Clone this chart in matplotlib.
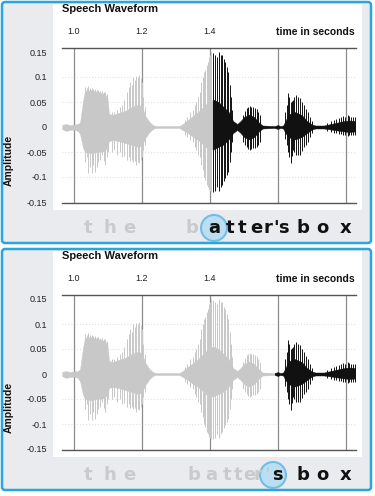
import matplotlib
import matplotlib.pyplot as plt
from matplotlib.patches import Rectangle, FancyBboxPatch, Circle

matplotlib.use('Agg')
plt.rcParams['font.family'] = ['Liberation Sans', 'DejaVu Sans']

# 波形包络（秒, 上沿, 下沿）。
env_t = [0.965, 0.976, 0.988, 1.0, 1.012, 1.018, 1.026, 1.032, 1.05, 1.07,
         1.09, 1.098, 1.103, 1.115, 1.13, 1.15, 1.17, 1.19, 1.2, 1.21,
         1.222, 1.232, 1.24, 1.31, 1.32, 1.335, 1.35, 1.365, 1.38, 1.395,
         1.41, 1.425, 1.44, 1.455, 1.468, 1.48, 1.49, 1.5, 1.515, 1.53,
         1.545, 1.555, 1.59, 1.6, 1.606, 1.615, 1.622, 1.63, 1.65, 1.67,
         1.685, 1.7, 1.71, 1.735, 1.755, 1.775, 1.795, 1.81, 1.826]
env_hi = [0.004, 0.006, 0.004, 0.005, 0.006, 0.01, 0.05, 0.072, 0.074, 0.07,
          0.066, 0.06, 0.026, 0.024, 0.028, 0.032, 0.04, 0.045, 0.04, 0.022,
          0.01, 0.004, 0.002, 0.002, 0.006, 0.014, 0.022, 0.03, 0.04, 0.05,
          0.055, 0.05, 0.04, 0.03, 0.012, 0.006, 0.012, 0.02, 0.025, 0.02,
          0.008, 0.003, 0.002, 0.004, 0.002, 0.003, 0.012, 0.025, 0.03, 0.024,
          0.012, 0.005, 0.003, 0.003, 0.006, 0.009, 0.012, 0.013, 0.012]
env_lo = [-0.004, -0.008, -0.006, -0.005, -0.008, -0.015, -0.04, -0.05, -0.052, -0.05,
          -0.048, -0.04, -0.028, -0.026, -0.028, -0.032, -0.036, -0.04, -0.036, -0.022,
          -0.01, -0.004, -0.002, -0.002, -0.006, -0.012, -0.02, -0.026, -0.035, -0.045,
          -0.045, -0.04, -0.035, -0.025, -0.012, -0.006, -0.012, -0.02, -0.025, -0.02,
          -0.008, -0.003, -0.002, -0.004, -0.002, -0.003, -0.012, -0.02, -0.025, -0.02,
          -0.012, -0.005, -0.003, -0.003, -0.005, -0.007, -0.009, -0.01, -0.009]

# 基音脉冲（尖峰）。
pulse_t = [1.032, 1.037, 1.042, 1.047, 1.052, 1.057, 1.062, 1.067, 1.072, 1.077,
           1.082, 1.087, 1.092, 1.096, 1.1,
           1.112, 1.119, 1.127, 1.134, 1.141, 1.148, 1.156, 1.161, 1.165, 1.17,
           1.174, 1.179, 1.183, 1.188, 1.192, 1.196, 1.2, 1.204, 1.208,
           1.326, 1.333, 1.341, 1.349, 1.356, 1.36, 1.365, 1.37, 1.374, 1.378,
           1.382, 1.386, 1.391, 1.394, 1.397, 1.4, 1.403, 1.409, 1.415, 1.42,
           1.426, 1.431, 1.435, 1.44, 1.444, 1.449, 1.453, 1.458, 1.462, 1.466,
           1.497, 1.503, 1.509, 1.513, 1.518, 1.522, 1.527, 1.532, 1.538, 1.542, 1.547,
           1.621, 1.625, 1.629, 1.633, 1.638, 1.641, 1.644, 1.648, 1.653, 1.659,
           1.665, 1.67, 1.676, 1.682, 1.688, 1.694, 1.7,
           1.745, 1.755, 1.765, 1.772, 1.78, 1.785, 1.79, 1.797, 1.805, 1.81,
           1.815, 1.82, 1.826]
pulse_hi = [0.08, 0.078, 0.082, 0.079, 0.078, 0.077, 0.076, 0.075, 0.074, 0.073,
            0.072, 0.07, 0.07, 0.066, 0.04,
            0.03, 0.03, 0.035, 0.04, 0.045, 0.055, 0.07, 0.08, 0.09, 0.085,
            0.1, 0.095, 0.102, 0.1, 0.104, 0.098, 0.09, 0.06, 0.04,
            0.015, 0.02, 0.03, 0.035, 0.045, 0.05, 0.06, 0.07, 0.09, 0.1,
            0.11, 0.115, 0.125, 0.13, 0.14, 0.145, 0.15, 0.148, 0.144, 0.14,
            0.15, 0.145, 0.144, 0.135, 0.13, 0.12, 0.11, 0.085, 0.06, 0.035,
            0.025, 0.032, 0.038, 0.04, 0.042, 0.041, 0.04, 0.038, 0.036, 0.03, 0.025,
            0.03, 0.045, 0.068, 0.06, 0.05, 0.052, 0.054, 0.06, 0.064, 0.06,
            0.058, 0.05, 0.044, 0.036, 0.03, 0.02, 0.012,
            0.008, 0.012, 0.014, 0.016, 0.018, 0.02, 0.022, 0.02, 0.024, 0.022,
            0.02, 0.021, 0.02]
pulse_lo = [-0.07, -0.06, -0.092, -0.08, -0.092, -0.075, -0.09, -0.08, -0.07, -0.065,
            -0.056, -0.068, -0.076, -0.06, -0.05,
            -0.05, -0.045, -0.055, -0.05, -0.06, -0.058, -0.065, -0.06, -0.068, -0.065,
            -0.07, -0.068, -0.075, -0.07, -0.072, -0.066, -0.06, -0.045, -0.035,
            -0.015, -0.02, -0.025, -0.03, -0.04, -0.045, -0.055, -0.06, -0.075, -0.085,
            -0.1, -0.105, -0.116, -0.12, -0.125, -0.128, -0.13, -0.13, -0.128, -0.12,
            -0.128, -0.12, -0.116, -0.108, -0.102, -0.095, -0.09, -0.07, -0.05, -0.03,
            -0.03, -0.035, -0.04, -0.043, -0.045, -0.044, -0.042, -0.041, -0.04, -0.035, -0.03,
            -0.024, -0.035, -0.05, -0.06, -0.072, -0.058, -0.045, -0.05, -0.056, -0.056,
            -0.056, -0.048, -0.04, -0.035, -0.03, -0.02, -0.012,
            -0.007, -0.01, -0.011, -0.012, -0.013, -0.014, -0.016, -0.015, -0.018, -0.016,
            -0.016, -0.016, -0.015]

x_ticks = [1.0, 1.2, 1.4, 1.6, 1.8]
x_labels = ['1.0', '1.2', '1.4', '', '']
y_ticks = [0.15, 0.1, 0.05, 0, -0.05, -0.1, -0.15]
y_labels = ['0.15', '0.1', '0.05', '0', '-0.05', '-0.1', '-0.15']

# 每个面板：高亮开始时间、字母、哪些字母是灰色、圆圈位置。
splits = [1.409, 1.59]
letters = list("thebatter'sbox")
gray_counts = [4, 10]
letter_x = [[88, 110, 129, 192, 214, 230, 242, 256, 268, 276, 283, 303, 322, 346],
            [88, 110, 129, 194, 211, 227, 238, 249, 258, 267, 277, 303, 322, 346]]
circle_x = [214, 273]

fig = plt.figure(figsize=(3.75, 4.96), dpi=100)
bg = fig.add_axes([0, 0, 1, 1], zorder=-1)
bg.set_xlim(0, 375)
bg.set_ylim(496, 0)
bg.axis('off')

for k in range(2):
    off = 247 * k
    bg.add_patch(FancyBboxPatch((2, 2 + off), 369, 241,
                                boxstyle='round,pad=0,rounding_size=3',
                                fc='#e9ebee', ec='#2aa6df', lw=1.8))
    bg.add_patch(Rectangle((53, 4 + off), 309, 206, fc='white', ec='none'))

    # 底部的字母。
    bg.add_patch(Circle((circle_x[k], 228 + off), 13, fc='#b3dcf2',
                        ec='#62b7e4', lw=1.5, alpha=0.85, zorder=1))
    for i, ch in enumerate(letters):
        c = '#c8cbce' if i < gray_counts[k] else '#111111'
        bg.text(letter_x[k][i], 228 + off, ch, ha='center', va='center', zorder=3,
                fontsize=13, fontweight='bold', color=c, family='DejaVu Sans')

    ax = fig.add_axes([62 / 375, 1 - (203 + off) / 496, 294 / 375, 155 / 496])
    ax.set_facecolor('none')
    ax.set_xlim(0.9647, 1.8294)
    ax.set_ylim(-0.152, 0.158)

    for col, x0, x1 in [('#c8c8c8', 0.9, splits[k]), ('#111111', splits[k], 2.0)]:
        clip = Rectangle((x0, -1), x1 - x0, 2, transform=ax.transData)
        f = ax.fill_between(env_t, env_hi, env_lo, color=col, lw=0.3)
        v = ax.vlines(pulse_t, pulse_lo, pulse_hi, color=col, lw=0.7)
        f.set_clip_path(clip)
        v.set_clip_path(clip)

    for yv in [0.1, 0.05, -0.05, -0.1]:
        ax.axhline(yv, color='#e2e2e2', lw=0.8, ls=':', zorder=0)
    for xv in x_ticks:
        ax.axvline(xv, color='#8c8c8c', lw=0.9, zorder=0.5)

    ax.xaxis.tick_top()
    ax.set_xticks(x_ticks)
    ax.set_xticklabels(x_labels)
    ax.set_yticks(y_ticks)
    ax.set_yticklabels(y_labels)
    ax.tick_params(axis='x', length=0, pad=8.5, labelsize=6.5, colors='#222222')
    ax.tick_params(axis='y', length=0, pad=11, labelsize=6.5, colors='#222222')
    for s in ['left', 'right']:
        ax.spines[s].set_visible(False)
    for s in ['top', 'bottom']:
        ax.spines[s].set_color('#555555')
        ax.spines[s].set_linewidth(1.0)

    ax.set_ylabel('Amplitude', fontsize=7.5, fontweight='bold', color='#111111')
    ax.yaxis.set_label_coords(-0.163, 0.277)
    ax.text(0.0, 1.252, 'Speech Waveform', transform=ax.transAxes, fontsize=8,
            fontweight='bold', ha='left', va='center', color='#111111')
    ax.text(0.997, 1.103, 'time in seconds', transform=ax.transAxes, fontsize=7.5,
            fontweight='bold', ha='right', va='center', color='#111111')

fig.savefig('out.png', dpi=100)
